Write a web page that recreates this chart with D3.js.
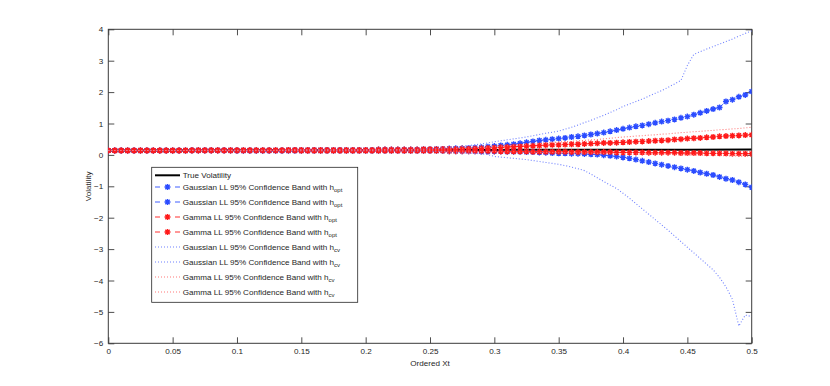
<!DOCTYPE html>
<html>
<head>
<meta charset="utf-8">
<script src="https://d3js.org/d3.v7.min.js"></script>
<style>
body { margin: 0; background: #fff; }
text { font-family: "Liberation Sans", Arial, sans-serif; fill: #262626; }
</style>
</head>
<body>
<div id="chart"></div>
<script>
// ordered Xt grid, 0 .. 0.5
var xs = d3.range(101).map(function(i) { return Math.round(i * 5) / 1000; });

var trueX = [0, 0.05, 0.1, 0.15, 0.2, 0.25, 0.3, 0.35, 0.4, 0.45, 0.5];
var trueVol = [0.14, 0.143, 0.146, 0.15, 0.153, 0.156, 0.16, 0.163, 0.166, 0.168, 0.17];

var gaussOptUp = [
  .14,.14,.14,.14,.14,.14,.14,.14,.14,.14,
  .14,.14,.14,.15,.15,.15,.15,.15,.15,.15,
  .15,.15,.15,.15,.15,.15,.15,.15,.16,.16,
  .16,.16,.16,.16,.16,.16,.16,.16,.16,.16,
  .16,.16,.17,.17,.17,.17,.17,.17,.17,.18,
  .18,.19,.19,.20,.21,.21,.22,.23,.24,.26,
  .28,.30,.32,.34,.37,.40,.43,.46,.48,.50,
  .52,.54,.57,.59,.62,.65,.68,.71,.75,.79,
  .83,.87,.91,.94,.98,1.02,1.06,1.09,1.13,1.18,
  1.22,1.28,1.34,1.40,1.46,1.51,1.70,1.76,1.85,1.91,
  2.02];
var gaussOptLow = [
  .14,.14,.14,.14,.14,.14,.14,.14,.14,.14,
  .14,.14,.14,.14,.14,.14,.14,.14,.14,.14,
  .13,.13,.13,.13,.13,.13,.13,.13,.13,.13,
  .13,.13,.13,.13,.13,.13,.13,.13,.13,.13,
  .13,.13,.13,.13,.13,.13,.13,.13,.13,.13,
  .13,.13,.13,.12,.12,.12,.12,.12,.11,.11,
  .11,.11,.10,.10,.10,.09,.09,.08,.07,.06,
  .05,.05,.04,.04,.03,.02,.01,-.01,-.03,-.05,
  -.08,-.11,-.15,-.19,-.23,-.27,-.31,-.35,-.39,-.43,
  -.47,-.51,-.56,-.60,-.64,-.70,-.76,-.80,-.87,-.94,
  -1.03];
var gammaOptUp = [
  .14,.14,.14,.14,.14,.14,.14,.14,.14,.14,
  .14,.14,.14,.15,.15,.15,.15,.15,.15,.15,
  .15,.15,.15,.15,.15,.15,.15,.15,.16,.16,
  .16,.16,.16,.16,.16,.16,.16,.16,.16,.16,
  .16,.16,.17,.17,.17,.17,.17,.17,.17,.18,
  .18,.18,.19,.19,.19,.20,.20,.20,.21,.22,
  .23,.24,.25,.26,.27,.28,.29,.30,.31,.32,
  .32,.33,.34,.34,.35,.36,.37,.38,.38,.39,
  .40,.41,.42,.43,.44,.45,.46,.47,.49,.50,
  .52,.53,.54,.56,.57,.59,.60,.61,.62,.63,
  .64];
var gammaOptLow = [
  .14,.14,.14,.14,.14,.14,.14,.14,.14,.14,
  .14,.14,.14,.14,.14,.14,.14,.14,.14,.14,
  .14,.14,.14,.14,.14,.14,.14,.14,.14,.14,
  .13,.13,.13,.13,.13,.13,.13,.13,.13,.13,
  .13,.13,.13,.13,.13,.13,.13,.13,.13,.13,
  .13,.13,.13,.12,.12,.12,.12,.12,.12,.12,
  .12,.11,.11,.11,.11,.11,.10,.10,.10,.10,
  .10,.10,.09,.09,.09,.09,.09,.09,.09,.08,
  .08,.08,.08,.08,.07,.07,.07,.07,.07,.06,
  .06,.06,.06,.05,.05,.05,.05,.04,.04,.04,
  .04];
var gaussCvUp = [
  .14,.14,.14,.14,.14,.14,.14,.14,.14,.14,
  .14,.14,.14,.15,.15,.15,.15,.15,.15,.15,
  .15,.15,.15,.15,.15,.15,.15,.15,.16,.16,
  .16,.16,.16,.16,.16,.16,.16,.16,.16,.16,
  .16,.16,.17,.17,.17,.17,.17,.17,.18,.18,
  .19,.20,.22,.23,.25,.27,.30,.32,.35,.38,
  .42,.45,.48,.51,.54,.57,.61,.65,.69,.72,
  .76,.82,.88,.95,1.03,1.10,1.18,1.26,1.35,1.44,
  1.54,1.62,1.70,1.78,1.87,1.96,2.05,2.15,2.26,2.37,
  2.85,3.20,3.29,3.37,3.45,3.53,3.61,3.69,3.78,3.87,
  3.95];
var gaussCvLow = [
  .14,.14,.14,.14,.14,.14,.14,.14,.14,.14,
  .14,.14,.14,.14,.14,.14,.14,.14,.14,.14,
  .13,.13,.13,.13,.13,.13,.13,.13,.13,.13,
  .13,.13,.13,.13,.13,.13,.13,.13,.13,.13,
  .13,.13,.13,.13,.13,.13,.13,.12,.12,.12,
  .12,.11,.10,.09,.08,.07,.06,.05,.03,.01,
  -.05,-.07,-.09,-.11,-.13,-.15,-.18,-.21,-.24,-.27,
  -.30,-.34,-.39,-.44,-.50,-.61,-.73,-.85,-.96,-1.07,
  -1.22,-1.38,-1.55,-1.72,-1.89,-2.06,-2.23,-2.40,-2.58,-2.76,
  -2.94,-3.12,-3.30,-3.48,-3.66,-3.90,-4.20,-4.60,-5.45,-5.10,
  -5.15];
var gammaCvUp = [
  .14,.14,.14,.14,.14,.14,.14,.14,.14,.14,
  .14,.14,.14,.15,.15,.15,.15,.15,.15,.15,
  .15,.15,.15,.15,.15,.15,.15,.15,.16,.16,
  .16,.16,.16,.16,.16,.16,.16,.16,.16,.16,
  .16,.16,.17,.17,.17,.17,.17,.17,.17,.18,
  .18,.18,.19,.19,.20,.21,.22,.23,.24,.25,
  .26,.28,.29,.31,.32,.34,.35,.37,.38,.39,
  .41,.42,.43,.45,.46,.48,.49,.51,.53,.55,
  .57,.58,.60,.61,.63,.64,.66,.67,.69,.71,
  .72,.74,.75,.77,.78,.80,.81,.83,.84,.86,
  .88];
var gammaCvLow = [
  .14,.14,.14,.14,.14,.14,.14,.14,.14,.14,
  .14,.14,.14,.14,.14,.14,.14,.14,.14,.14,
  .14,.14,.14,.14,.14,.14,.14,.14,.14,.14,
  .13,.13,.13,.13,.13,.13,.13,.13,.13,.13,
  .13,.13,.13,.13,.13,.13,.13,.13,.13,.13,
  .13,.13,.12,.12,.12,.12,.12,.11,.11,.11,
  .11,.10,.10,.10,.09,.09,.09,.08,.08,.08,
  .07,.07,.07,.06,.06,.06,.05,.05,.05,.04,
  .04,.04,.03,.03,.03,.02,.02,.02,.01,.01,
  .00,.00,-.01,-.01,-.02,-.02,-.03,-.03,-.04,-.04,
  -.05];

var xTicks = [0, 0.05, 0.1, 0.15, 0.2, 0.25, 0.3, 0.35, 0.4, 0.45, 0.5];
var yTicks = [-6, -5, -4, -3, -2, -1, 0, 1, 2, 3, 4];

var blue = "#2b4cff", blueDot = "#6f80ff", red = "#ff1a1a", redDot = "#ff7878";

var series = [
  {label: "Gaussian LL 95% Confidence Band with h", sub: "opt", vals: gaussOptUp, color: blue, kind: "mark"},
  {label: "Gaussian LL 95% Confidence Band with h", sub: "opt", vals: gaussOptLow, color: blue, kind: "mark"},
  {label: "Gamma LL 95% Confidence Band with h", sub: "opt", vals: gammaOptUp, color: red, kind: "mark"},
  {label: "Gamma LL 95% Confidence Band with h", sub: "opt", vals: gammaOptLow, color: red, kind: "mark"},
  {label: "Gaussian LL 95% Confidence Band with h", sub: "cv", vals: gaussCvUp, color: blueDot, kind: "dot"},
  {label: "Gaussian LL 95% Confidence Band with h", sub: "cv", vals: gaussCvLow, color: blueDot, kind: "dot"},
  {label: "Gamma LL 95% Confidence Band with h", sub: "cv", vals: gammaCvUp, color: redDot, kind: "dot"},
  {label: "Gamma LL 95% Confidence Band with h", sub: "cv", vals: gammaCvLow, color: redDot, kind: "dot"}
];

var pL = 108.3, pR = 751.7, pT = 29.3, pB = 343.3;
var fs = "8.1px";

var svg = d3.select("#chart")
  .append("svg")
    .attr("width", 830)
    .attr("height", 386);

var x = d3.scaleLinear().domain([0, 0.5]).range([pL, pR]);
var y = d3.scaleLinear().domain([-6, 4]).range([pB, pT]);

svg.append("clipPath").attr("id", "plotclip")
  .append("rect")
    .attr("x", pL).attr("y", pT)
    .attr("width", pR - pL).attr("height", pB - pT);

// axes, MATLAB style box with inward ticks
var fmt = function(d) { return d3.format("")(d); };

svg.append("g")
  .attr("class", "ax")
  .attr("transform", "translate(0," + pB + ")")
  .call(d3.axisBottom(x).tickValues(xTicks).tickSize(-6).tickPadding(4.5).tickFormat(fmt));
svg.append("g")
  .attr("class", "ax")
  .attr("transform", "translate(0," + pT + ")")
  .call(d3.axisTop(x).tickValues(xTicks).tickSize(-6).tickFormat(""));
svg.append("g")
  .attr("class", "ax")
  .attr("transform", "translate(" + pL + ",0)")
  .call(d3.axisLeft(y).tickValues(yTicks).tickSize(-6).tickPadding(5).tickFormat(fmt));
svg.append("g")
  .attr("class", "ax")
  .attr("transform", "translate(" + pR + ",0)")
  .call(d3.axisRight(y).tickValues(yTicks).tickSize(-6).tickFormat(""));

svg.selectAll(".ax .domain").remove();
svg.selectAll(".ax .tick line").attr("stroke", "#3a3a3a").attr("stroke-width", 0.9);
svg.selectAll(".ax text")
  .style("font-family", "'Liberation Sans', Arial, sans-serif")
  .style("font-size", fs)
  .attr("fill", "#262626");

svg.append("rect")
  .attr("x", pL).attr("y", pT)
  .attr("width", pR - pL).attr("height", pB - pT)
  .attr("fill", "none")
  .attr("stroke", "#3a3a3a")
  .attr("stroke-width", 1);

svg.append("text")
  .attr("x", (pL + pR) / 2)
  .attr("y", 366)
  .attr("text-anchor", "middle")
  .attr("fill", "#262626")
  .style("font-size", fs)
  .text("Ordered Xt");

svg.append("text")
  .attr("transform", "translate(91," + ((pT + pB) / 2) + ") rotate(-90)")
  .attr("text-anchor", "middle")
  .attr("fill", "#262626")
  .style("font-size", fs)
  .text("Volatility");

var plot = svg.append("g").attr("clip-path", "url(#plotclip)");

var starPath = function(r) {
  var d = r * 0.72;
  return "M" + (-r) + ",0H" + r + "M0," + (-r) + "V" + r +
    "M" + (-d) + "," + (-d) + "L" + d + "," + d +
    "M" + (-d) + "," + d + "L" + d + "," + (-d);
};

var line = d3.line()
  .x(function(d, i) { return x(xs[i]); })
  .y(function(d) { return y(d); });

plot.append("path")
  .datum(trueVol)
  .attr("d", d3.line().x(function(d, i) { return x(trueX[i]); }).y(function(d) { return y(d); }))
  .attr("fill", "none")
  .attr("stroke", "#000")
  .attr("stroke-width", 2);

series.forEach(function(s) {
  plot.append("path")
    .datum(s.vals)
    .attr("d", line)
    .attr("fill", "none")
    .attr("stroke", s.color)
    .attr("stroke-width", s.kind == "mark" ? 0.9 : 1.1)
    .attr("stroke-dasharray", s.kind == "mark" ? "4,3" : "1,2");
  if (s.kind == "mark") {
    plot.append("g")
      .selectAll("path")
      .data(s.vals)
      .enter()
      .append("path")
        .attr("transform", function(d, i) { return "translate(" + x(xs[i]) + "," + y(d) + ")"; })
        .attr("d", starPath(3))
        .attr("fill", "none")
        .attr("stroke", s.color)
        .attr("stroke-width", 1.4);
  }
});

// legend
var lx = 151.7, ly = 167.3, lw = 206, lh = 135;
var legend = svg.append("g");
legend.append("rect")
  .attr("x", lx).attr("y", ly)
  .attr("width", lw).attr("height", lh)
  .attr("fill", "#fff")
  .attr("stroke", "#262626")
  .attr("stroke-width", 0.8);

legend.append("line")
  .attr("x1", 155).attr("x2", 180)
  .attr("y1", 175.3).attr("y2", 175.3)
  .attr("stroke", "#000").attr("stroke-width", 2);
legend.append("text")
  .attr("x", 182.7).attr("y", 175.3)
  .attr("dy", "0.35em")
  .attr("fill", "#262626")
  .style("font-size", fs)
  .text("True Volatility");

series.forEach(function(s, i) {
  var ry = 187 + i * 15;
  legend.append("line")
    .attr("x1", 155).attr("x2", 180)
    .attr("y1", ry).attr("y2", ry)
    .attr("stroke", s.color)
    .attr("stroke-width", s.kind == "mark" ? 0.9 : 1.1)
    .attr("stroke-dasharray", s.kind == "mark" ? "5,15" : "1,2");
  if (s.kind == "mark") {
    legend.append("path")
      .attr("transform", "translate(167.5," + ry + ")")
      .attr("d", starPath(3))
      .attr("fill", "none")
      .attr("stroke", s.color)
      .attr("stroke-width", 1.4);
  }
  var t = legend.append("text")
    .attr("x", 182.7).attr("y", ry)
    .attr("dy", "0.35em")
    .attr("fill", "#262626")
    .style("font-size", fs)
    .text(s.label);
  t.append("tspan")
    .attr("dy", "2.6")
    .style("font-size", "6px")
    .text(s.sub);
});
</script>
</body>
</html>
